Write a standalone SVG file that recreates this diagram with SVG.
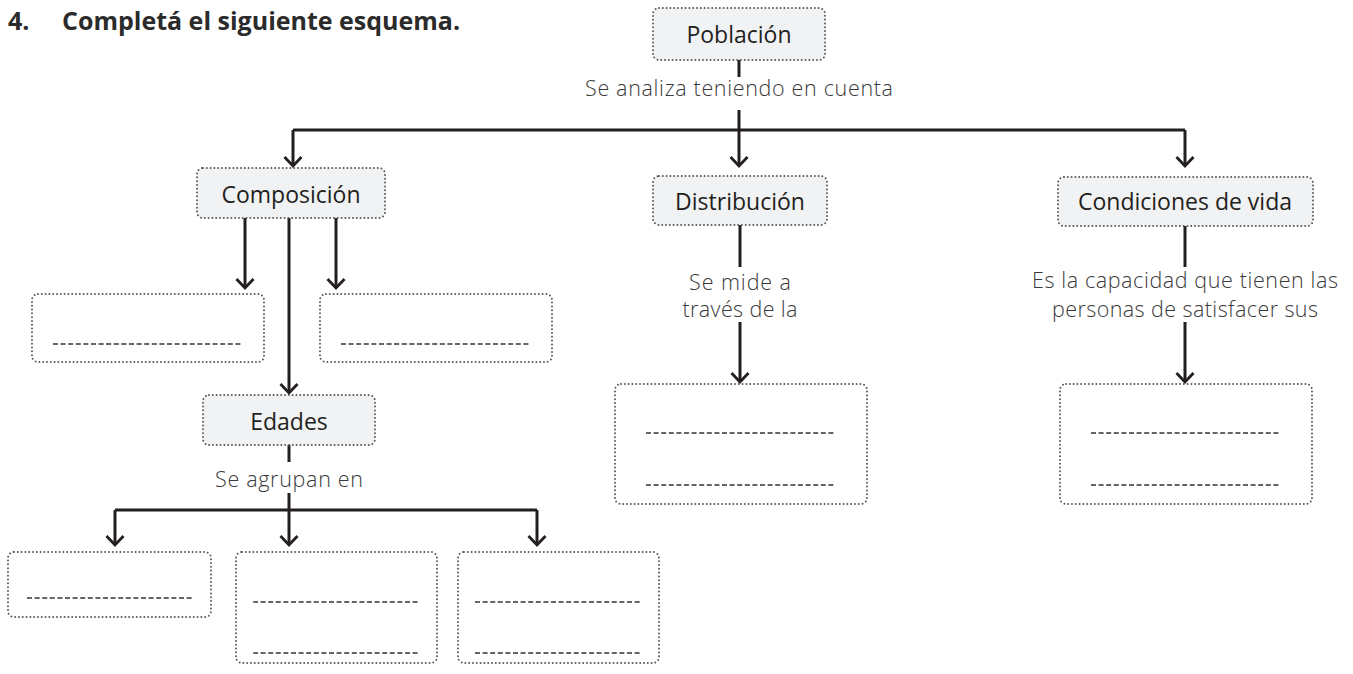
<svg xmlns="http://www.w3.org/2000/svg" width="1353" height="674" viewBox="0 0 1353 674">
<style>
.lbl{fill:#f1f2f3;stroke:#5a5a5a;stroke-width:2;stroke-dasharray:0 3.8;stroke-linecap:round}
.blank{fill:#fff;stroke:#5a5a5a;stroke-width:2;stroke-dasharray:0 3.8;stroke-linecap:round}
.dash{stroke:#333;stroke-width:1.3;stroke-dasharray:5 2.6;fill:none}
.ln{stroke:#231f20;stroke-width:3;fill:none}
.arr{stroke:#231f20;stroke-width:3;fill:none;marker-end:url(#ah)}
.t{font-family:"Open Sans","Liberation Sans",sans-serif;font-size:23px;font-weight:500;fill:#231f20;text-anchor:middle}
.s{font-family:"Open Sans","Liberation Sans",sans-serif;font-size:21.5px;font-weight:300;fill:#3a3a3a;text-anchor:middle}
.title{font-family:"Open Sans","Liberation Sans",sans-serif;font-size:25px;font-weight:700;fill:#2b2b2b}
</style>
<defs>
<marker id="ah" viewBox="-12 -12 24 24" refX="0" refY="0" markerUnits="userSpaceOnUse" markerWidth="24" markerHeight="24" orient="auto">
<path d="M-9,-8.5 L0,0 L-9,8.5" fill="none" stroke="#231f20" stroke-width="2.8"/>
</marker>
</defs>
<rect width="1353" height="674" fill="#fff"/>
<text class="title" x="8" y="30">4.</text>
<text class="title" x="62" y="30">Completá el siguiente esquema.</text>

<g id="connectors">
<line class="ln" x1="739" y1="60" x2="739" y2="77"/>
<line class="ln" x1="739" y1="110" x2="739" y2="130"/>
<line class="ln" x1="293" y1="130" x2="1185" y2="130"/>
<line class="arr" x1="293" y1="130" x2="293" y2="166"/>
<line class="arr" x1="739" y1="130" x2="739" y2="166"/>
<line class="arr" x1="1185" y1="130" x2="1185" y2="166"/>
<line class="arr" x1="245" y1="218" x2="245" y2="288"/>
<line class="arr" x1="336" y1="218" x2="336" y2="288"/>
<line class="arr" x1="289" y1="218" x2="289" y2="393"/>
<line class="ln" x1="289" y1="445" x2="289" y2="462"/>
<line class="ln" x1="289" y1="493" x2="289" y2="510"/>
<line class="ln" x1="115" y1="510" x2="537" y2="510"/>
<line class="arr" x1="115" y1="510" x2="115" y2="545"/>
<line class="arr" x1="289" y1="510" x2="289" y2="545"/>
<line class="arr" x1="537" y1="510" x2="537" y2="545"/>
<line class="ln" x1="740" y1="225" x2="740" y2="267"/>
<line class="arr" x1="740" y1="322" x2="740" y2="382"/>
<line class="ln" x1="1185" y1="226" x2="1185" y2="267"/>
<line class="arr" x1="1185" y1="322" x2="1185" y2="382"/>
<text class="s" x="739" y="96" textLength="308" lengthAdjust="spacing">Se analiza teniendo en cuenta</text>
<text class="s" x="289" y="487" textLength="148" lengthAdjust="spacing">Se agrupan en</text>
<text class="s" x="740" y="290" textLength="102" lengthAdjust="spacing">Se mide a</text>
<text class="s" x="740" y="317" textLength="115" lengthAdjust="spacing">través de la</text>
<text class="s" x="1185" y="288" textLength="306" lengthAdjust="spacing">Es la capacidad que tienen las</text>
<text class="s" x="1185" y="317" textLength="266" lengthAdjust="spacing">personas de satisfacer sus</text>
</g>

<g id="poblacion">
<rect class="lbl" x="653" y="8" width="172" height="52" rx="6"/>
<text class="t" x="739" y="43">Población</text>
</g>
<g id="composicion">
<rect class="lbl" x="197" y="168" width="188" height="50" rx="6"/>
<text class="t" x="291" y="203">Composición</text>
</g>
<g id="distribucion">
<rect class="lbl" x="653" y="176" width="174" height="49" rx="6"/>
<text class="t" x="740" y="210">Distribución</text>
</g>
<g id="condiciones">
<rect class="lbl" x="1058" y="177" width="255" height="49" rx="6"/>
<text class="t" x="1185" y="210">Condiciones de vida</text>
</g>
<g id="comp-left">
<rect class="blank" x="32" y="294" width="232" height="68" rx="6"/>
<line class="dash" x1="53" y1="344" x2="243" y2="344"/>
</g>
<g id="comp-right">
<rect class="blank" x="320" y="294" width="232" height="68" rx="6"/>
<line class="dash" x1="341" y1="344" x2="530" y2="344"/>
</g>
<g id="edades">
<rect class="lbl" x="203" y="395" width="172" height="50" rx="6"/>
<text class="t" x="289" y="430">Edades</text>
</g>
<g id="edad-1">
<rect class="blank" x="8" y="552" width="203" height="65" rx="6"/>
<line class="dash" x1="27" y1="598" x2="194" y2="598"/>
</g>
<g id="edad-2">
<rect class="blank" x="236" y="552" width="201" height="111" rx="6"/>
<line class="dash" x1="253" y1="602" x2="420" y2="602"/>
<line class="dash" x1="253" y1="653" x2="420" y2="653"/>
</g>
<g id="edad-3">
<rect class="blank" x="458" y="552" width="201" height="111" rx="6"/>
<line class="dash" x1="475" y1="602" x2="642" y2="602"/>
<line class="dash" x1="475" y1="653" x2="642" y2="653"/>
</g>
<g id="dist-box">
<rect class="blank" x="615" y="384" width="252" height="120" rx="6"/>
<line class="dash" x1="646" y1="433" x2="836" y2="433"/>
<line class="dash" x1="646" y1="485" x2="836" y2="485"/>
</g>
<g id="cond-box">
<rect class="blank" x="1060" y="384" width="252" height="120" rx="6"/>
<line class="dash" x1="1091" y1="433" x2="1281" y2="433"/>
<line class="dash" x1="1091" y1="485" x2="1281" y2="485"/>
</g>
</svg>
